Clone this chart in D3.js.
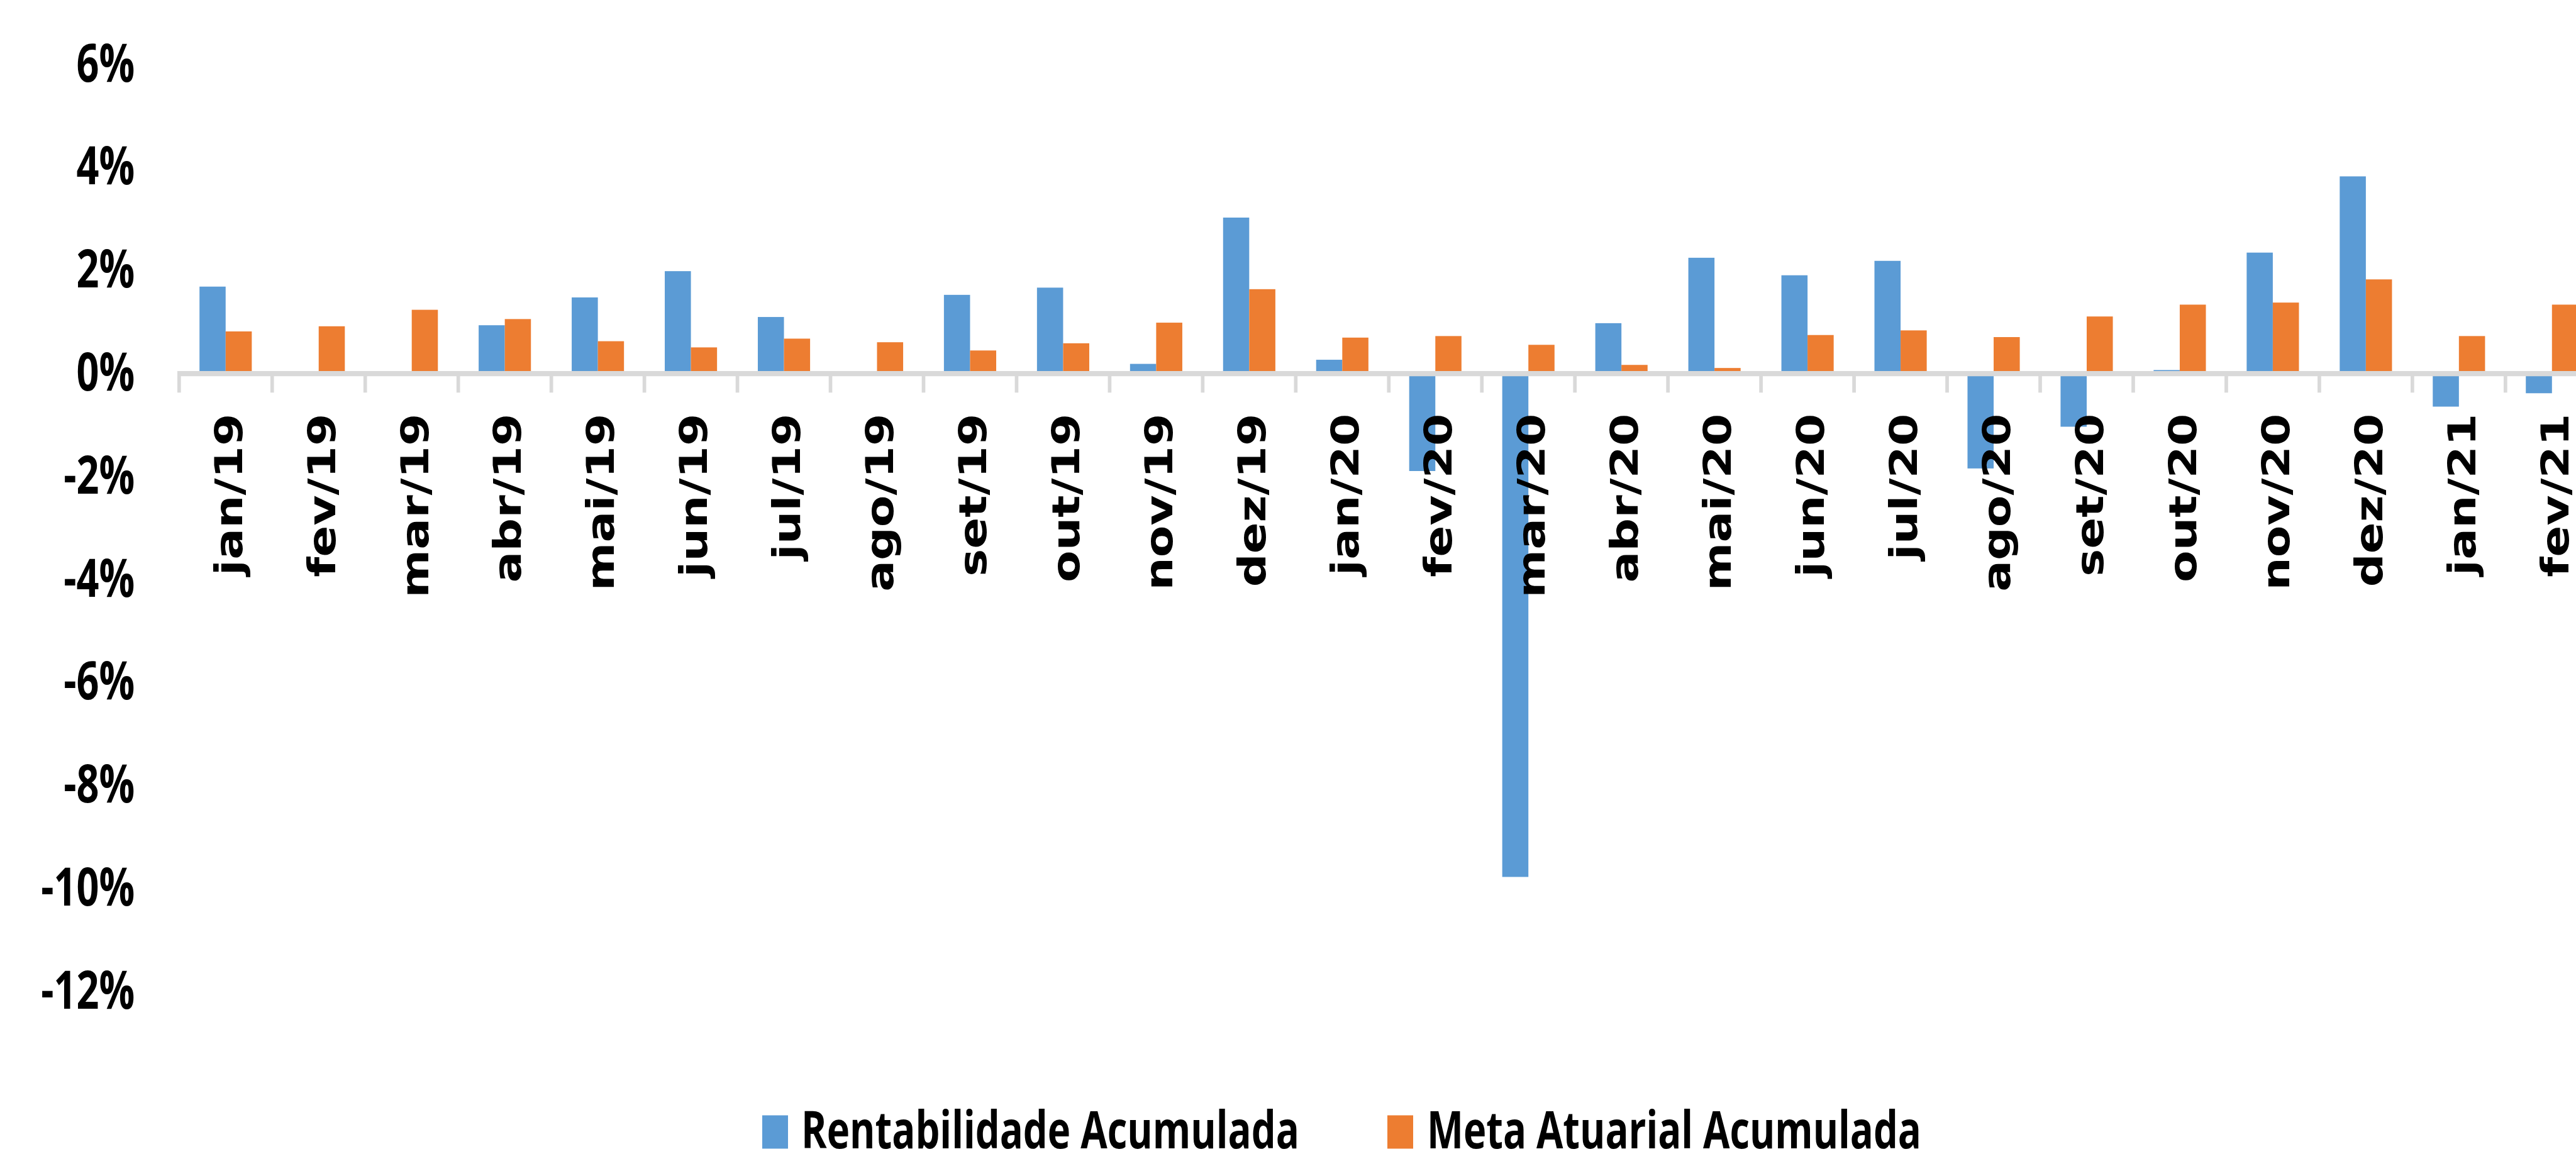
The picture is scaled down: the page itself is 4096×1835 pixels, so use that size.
<!DOCTYPE html>
<html>
<head>
<meta charset="utf-8">
<script src="https://cdn.jsdelivr.net/npm/d3@7"></script>
<style>
  html, body { margin: 0; padding: 0; background: #fff; overflow: hidden; }
</style>
</head>
<body>
<svg id="chart"></svg>
<script>
// categories (mes/ano)
const months = ["jan/19", "fev/19", "mar/19", "abr/19", "mai/19", "jun/19", "jul/19", "ago/19",
  "set/19", "out/19", "nov/19", "dez/19", "jan/20", "fev/20", "mar/20", "abr/20", "mai/20",
  "jun/20", "jul/20", "ago/20", "set/20", "out/20", "nov/20", "dez/20", "jan/21", "fev/21"];

// values in %
const rentabilidade = [1.69, 0, 0, 0.94, 1.48, 1.99, 1.10, 0, 1.53, 1.67, 0.19, 3.03, 0.27,
  -1.89, -9.77, 0.98, 2.25, 1.91, 2.19, -1.84, -1.03, 0.07, 2.35, 3.83, -0.64, -0.38];
const metaAtuarial = [0.82, 0.92, 1.24, 1.06, 0.63, 0.51, 0.68, 0.61, 0.45, 0.59, 0.99, 1.64, 0.70,
  0.73, 0.56, 0.17, 0.11, 0.75, 0.84, 0.71, 1.11, 1.34, 1.38, 1.83, 0.73, 1.34];

const series = ["Rentabilidade Acumulada", "Meta Atuarial Acumulada"];
const seriesColors = ["#5B9BD5", "#ED7D31"];
const yTicks = [-12, -10, -8, -6, -4, -2, 0, 2, 4, 6];

const W = 4096, H = 1835;
const svg = d3.select("#chart").attr("width", W).attr("height", H);

// plot extends past the right edge, as in the original (fev/21 is cut off)
const left = 284.8, step = 147.96;
const x0 = d3.scaleBand().domain(months).range([left, left + step * months.length]);
const x1 = d3.scaleBand().domain(series).range([0, x0.bandwidth()]).paddingInner(0).paddingOuter(0.78);
const y = d3.scaleLinear().domain([-12, 6]).range([1577.1, 102.7]);

const rows = months.map((m, i) => ({month: m, values: [rentabilidade[i], metaAtuarial[i]]}));

// bars
svg.append("g")
  .selectAll("g")
  .data(rows)
  .join("g")
  .attr("transform", d => `translate(${x0(d.month)},0)`)
  .selectAll("rect")
  .data(d => d.values.map((v, j) => ({key: series[j], v: v, color: seriesColors[j]})))
  .join("rect")
  .attr("x", d => x1(d.key))
  .attr("width", x1.bandwidth())
  .attr("y", d => y(Math.max(0, d.v)))
  .attr("height", d => Math.abs(y(d.v) - y(0)))
  .attr("fill", d => d.color);

// category axis: thick grey line with ticks between categories
const axisG = svg.append("g");
axisG.append("line")
  .attr("x1", x0(months[0]) - 2.8).attr("x2", W)
  .attr("y1", y(0)).attr("y2", y(0))
  .attr("stroke", "#D9D9D9").attr("stroke-width", 8.2);

const edges = months.map(m => x0(m)).concat([x0(months[months.length - 1]) + x0.bandwidth()]);
axisG.selectAll("line.tick")
  .data(edges)
  .join("line")
  .attr("class", "tick")
  .attr("x1", d => d).attr("x2", d => d)
  .attr("y1", y(0)).attr("y2", 624.3)
  .attr("stroke", "#D9D9D9").attr("stroke-width", 5.7);

// rotated month labels
const xLab = axisG.selectAll("text.xl")
  .data(months)
  .join("text")
  .attr("class", "xl")
  .attr("font-family", "DejaVu Sans")
  .attr("font-weight", "bold")
  .attr("font-size", 61)
  .attr("fill", "#000")
  .attr("text-anchor", "end")
  .attr("x", 0)
  .attr("y", 25.8)
  .text(d => d);
const refLen = xLab.filter(d => d === "jan/19").node().getComputedTextLength();
const sx = 257.5 / refLen;
xLab.attr("transform", d => `translate(${x0(d) + x0.bandwidth() / 2},657.7) rotate(-90) scale(${sx},1)`);

// value axis labels (no axis line)
const yLab = svg.append("g")
  .selectAll("text")
  .data(yTicks)
  .join("text")
  .attr("font-family", "Open Sans")
  .attr("font-weight", "bold")
  .attr("font-size", 85)
  .attr("fill", "#000")
  .attr("text-anchor", "end")
  .attr("x", 0).attr("y", 0)
  .text(d => d + "%");
const yRef = yLab.filter(d => d === -10).node().getComputedTextLength();
const ky = 149 / yRef;
yLab.attr("transform", d => `translate(214.3,${y(d) + 26.8}) scale(${ky},1)`);

// legend
const legendItems = [
  {name: series[0], color: seriesColors[0], mx: 1212, tx: 1274, width: 792},
  {name: series[1], color: seriesColors[1], mx: 2206, tx: 2269, width: 786}
];
const legend = svg.append("g");
legendItems.forEach(it => {
  legend.append("rect")
    .attr("x", it.mx).attr("y", 1773.5)
    .attr("width", 41).attr("height", 53)
    .attr("fill", it.color);
  const t = legend.append("text")
    .attr("font-family", "Open Sans")
    .attr("font-weight", "bold")
    .attr("font-size", 83)
    .attr("fill", "#000")
    .attr("x", 0).attr("y", 0)
    .text(it.name);
  const k = it.width / t.node().getComputedTextLength();
  t.attr("transform", `translate(${it.tx},1826.4) scale(${k},1)`);
});
</script>
</body>
</html>
